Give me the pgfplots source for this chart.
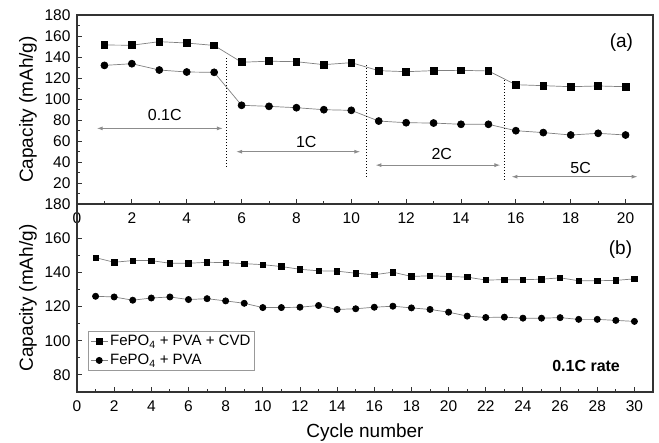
\documentclass[border=0pt]{standalone}
\usepackage{fontspec}
\setmainfont{Liberation Sans}
\usepackage{pgfplots}
\pgfplotsset{compat=1.18}
\usetikzlibrary{arrows.meta}

\definecolor{axgray}{HTML}{333333}
\definecolor{lngray}{HTML}{808080}
\definecolor{argray}{HTML}{8C8C8C}

\tikzset{
  rng/.style={argray, line width=1pt, {Latex[length=6pt,width=4pt]}-{Latex[length=6pt,width=4pt]}},
}
\pgfplotsset{
  panel/.style={
    scale only axis, width=576pt,
    axis line style={axgray, line width=1.1pt},
    tick style={axgray, line width=0.9pt},
    tick align=inside, xtick pos=bottom, ytick pos=left,
    hide obscured x ticks=false, hide obscured y ticks=false,
    major tick length=5pt, minor tick length=3pt,
    minor x tick num=1, minor y tick num=1,
    tick label style={font=\fontsize{15.5}{15.5}\selectfont, text=black},
    /pgf/number format/assume math mode=true,
    xticklabel style={yshift=-5pt},
    yticklabel style={xshift=-3pt},
    every axis y label/.style={at={(axis description cs:-0.085,0.5)}, rotate=90, anchor=center,
      font=\fontsize{19}{19}\selectfont},
    ylabel={Capacity (mAh/g)},
    clip=false,
  },
  sq/.style={lngray, line width=0.7pt, mark=square*, mark options={black, fill=black, solid}},
  ci/.style={lngray, line width=0.7pt, mark=*, mark options={black, fill=black, solid}},
}

\begin{document}
\begin{tikzpicture}
\useasboundingbox (0,0) rectangle (659pt,443pt);

% (a) rate capability
\begin{axis}[panel, at={(77pt,239pt)}, anchor=south west, height=189pt,
  xmin=0, xmax=21, ymin=0, ymax=180,
  xtick={0,2,...,20}, ytick={0,20,...,180},
  yticklabels={,20,40,60,80,100,120,140,160,180}]
\addplot[sq, mark size=3.4pt] coordinates {
 (1,151.4) (2,151.2) (3,154.6) (4,153.3) (5,151.0)
 (6,135.0) (7,136.0) (8,135.5) (9,132.7) (10,134.6)
 (11,127.0) (12,126.0) (13,127.0) (14,127.3) (15,126.7)
 (16,113.6) (17,112.7) (18,111.7) (19,112.4) (20,111.7)};
\addplot[ci, mark size=3.5pt] coordinates {
 (1,132.0) (2,133.6) (3,127.6) (4,125.7) (5,125.4)
 (6,94.0) (7,93.0) (8,91.7) (9,89.8) (10,89.2)
 (11,79.0) (12,77.4) (13,77.1) (14,75.9) (15,75.9)
 (16,69.8) (17,68.0) (18,65.7) (19,67.3) (20,65.7)};
\draw[dotted, line width=1pt] (axis cs:5.46,139) -- (axis cs:5.46,36);
\draw[dotted, line width=1pt] (axis cs:10.55,132) -- (axis cs:10.55,26);
\draw[dotted, line width=1pt] (axis cs:15.6,118) -- (axis cs:15.6,23);
\draw[rng] (axis cs:0.72,72) -- (axis cs:5.32,72);
\draw[rng] (axis cs:5.8,49.8) -- (axis cs:10.33,49.8);
\draw[rng] (axis cs:10.88,37) -- (axis cs:15.44,37);
\draw[rng] (axis cs:15.84,26) -- (axis cs:20.44,26);
\node[font=\fontsize{16}{16}\selectfont] at (axis cs:3.2,85) {0.1C};
\node[font=\fontsize{16}{16}\selectfont] at (axis cs:8.36,59) {1C};
\node[font=\fontsize{16}{16}\selectfont] at (axis cs:13.3,47.6) {2C};
\node[font=\fontsize{16}{16}\selectfont] at (axis cs:18.36,34) {5C};
\node[font=\fontsize{19}{19}\selectfont] at (axis cs:19.85,154) {(a)};
\end{axis}

% (b) cycling at 0.1C
\begin{axis}[panel, at={(77pt,51pt)}, anchor=south west, height=188pt,
  xmin=0, xmax=31, ymin=70, ymax=180,
  xtick={0,2,...,30}, ytick={80,100,...,180},
  xlabel={Cycle number},
  every axis x label/.style={at={(axis description cs:0.5,0)}, yshift=-41pt, anchor=center,
    font=\fontsize{19}{19}\selectfont},
  legend style={at={(axis description cs:0.019,0.324)}, anchor=north west,
    draw=gray!80, line width=0.8pt, fill=white, inner sep=2pt,
    font=\fontsize{15}{15}\selectfont, row sep=3pt},
  legend cell align=left]
\addplot[sq, mark size=2.7pt] coordinates {
 (1,148.6) (2,145.9) (3,146.9) (4,146.9) (5,145.3) (6,145.3) (7,145.9) (8,145.7)
 (9,145.1) (10,144.5) (11,143.4) (12,141.8) (13,140.9) (14,140.7) (15,139.5)
 (16,138.6) (17,140.1) (18,137.6) (19,138.0) (20,137.6) (21,137.2) (22,135.5)
 (23,135.7) (24,135.7) (25,136.0) (26,136.8) (27,135.1) (28,135.1) (29,135.3) (30,136.2)};
\addlegendentry{FePO\textsubscript{4} + PVA + CVD}
\addplot[ci, mark size=3.1pt] coordinates {
 (1,126.0) (2,125.6) (3,123.7) (4,125.0) (5,125.6) (6,124.1) (7,124.6) (8,123.3)
 (9,121.9) (10,119.4) (11,119.4) (12,119.6) (13,120.6) (14,118.3) (15,118.7)
 (16,119.6) (17,120.2) (18,119.2) (19,118.3) (20,116.7) (21,114.4) (22,113.6)
 (23,113.8) (24,113.2) (25,113.2) (26,113.5) (27,112.5) (28,112.5) (29,111.9) (30,111.3)};
\addlegendentry{FePO\textsubscript{4} + PVA}
\node[font=\fontsize{19}{19}\selectfont] at (axis cs:29.25,153.6) {(b)};
\node[font=\bfseries\fontsize{16}{16}\selectfont] at (axis cs:27.4,85.4) {0.1C rate};
\end{axis}
\end{tikzpicture}
\end{document}
